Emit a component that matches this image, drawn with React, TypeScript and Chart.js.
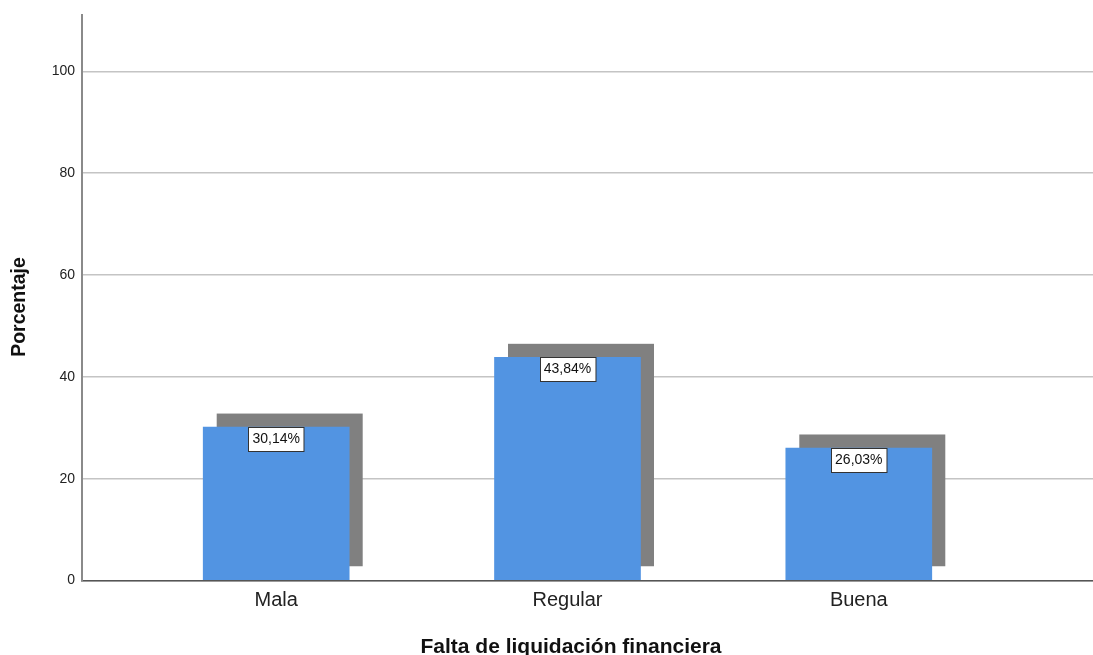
import React, { useEffect, useRef } from "react";
import { Chart, registerables } from "chart.js";

Chart.register(...registerables);

const CATEGORIES = ["Mala", "Regular", "Buena"];
const PERCENTAGES = [30.14, 43.84, 26.03];
const Y_TICKS = [0, 20, 40, 60, 80, 100];
const X_TITLE = "Falta de liquidación financiera";
const Y_TITLE = "Porcentaje";

const FONT = '"Liberation Sans", Arial, Helvetica, sans-serif';
const BAR_COLOR = "#5294E2";
const SHADOW_COLOR = "#808080";

const shadowPlugin = {
  id: "barShadow",
  beforeDatasetsDraw(chart: any) {
    const meta = chart.getDatasetMeta(0);
    const ctx = chart.ctx;
    ctx.save();
    ctx.fillStyle = SHADOW_COLOR;
    meta.data.forEach((bar: any) => {
      const p = bar.getProps(["x", "y", "base", "width"], true);
      ctx.fillRect(p.x - p.width / 2 + 13.5, p.y - 13.5, p.width, p.base - p.y);
    });
    ctx.restore();
  },
};

const labelPlugin = {
  id: "barLabels",
  afterDatasetsDraw(chart: any) {
    const meta = chart.getDatasetMeta(0);
    const ctx = chart.ctx;
    ctx.save();
    ctx.font = `14px ${FONT}`;
    ctx.textAlign = "center";
    ctx.textBaseline = "middle";
    meta.data.forEach((bar: any, i: number) => {
      const p = bar.getProps(["x", "y"], true);
      const txt = PERCENTAGES[i].toFixed(2).replace(".", ",") + "%";
      const w = ctx.measureText(txt).width + 8;
      const h = 24;
      const left = Math.round(p.x - w / 2) + 0.5;
      const top = Math.round(p.y) + 0.5;
      ctx.fillStyle = "#ffffff";
      ctx.fillRect(left, top, w, h);
      ctx.strokeStyle = "#333333";
      ctx.lineWidth = 1;
      ctx.strokeRect(left, top, w, h);
      ctx.fillStyle = "#111111";
      ctx.fillText(txt, p.x, top + h / 2);
    });
    ctx.restore();
  },
};

const titlePlugin = {
  id: "axisTitles",
  afterDraw(chart: any) {
    const ctx = chart.ctx;
    ctx.save();
    ctx.fillStyle = "#111111";
    ctx.font = `bold 21px ${FONT}`;
    ctx.textAlign = "center";
    ctx.textBaseline = "alphabetic";
    ctx.fillText(X_TITLE, 571, 653);
    ctx.translate(20, 307);
    ctx.rotate(-Math.PI / 2);
    ctx.font = `bold 19.5px ${FONT}`;
    ctx.textBaseline = "middle";
    ctx.fillText(Y_TITLE, 0, 0);
    ctx.restore();
  },
};

export default function App() {
  const ref = useRef<HTMLCanvasElement>(null);

  useEffect(() => {
    if (!ref.current) return;
    const chart = new Chart(ref.current, {
      type: "bar",
      data: {
        datasets: [
          {
            data: PERCENTAGES.map((v, i) => ({ x: i + 1, y: v })),
            backgroundColor: BAR_COLOR,
            borderWidth: 0,
            barThickness: 146,
          } as any,
        ],
      },
      options: {
        animation: false,
        responsive: false,
        layout: { padding: { top: 15, right: 0, left: 0, bottom: 0 } },
        plugins: { legend: { display: false }, tooltip: { enabled: false } },
        scales: {
          x: {
            type: "linear",
            offset: false,
            min: 1 / 3,
            max: 3.804,
            grid: { display: false, drawTicks: false },
            border: { display: true, color: "#555555", width: 1.5 },
            afterBuildTicks: (scale: any) => {
              scale.ticks = CATEGORIES.map((_, i) => ({ value: i + 1 }));
            },
            afterFit: (scale: any) => {
              scale.height = 74.5;
            },
            ticks: {
              autoSkip: false,
              maxRotation: 0,
              padding: 8,
              color: "#222222",
              font: { size: 20, family: FONT },
              callback: (v: any) => CATEGORIES[Math.round(Number(v)) - 1] ?? "",
            },
          },
          y: {
            type: "linear",
            min: 0,
            max: 111,
            grid: { color: "#c4c4c4", lineWidth: 1.5, drawTicks: false },
            border: { display: true, color: "#8a8a8a", width: 2 },
            afterBuildTicks: (scale: any) => {
              scale.ticks = Y_TICKS.map((v) => ({ value: v }));
            },
            afterFit: (scale: any) => {
              scale.width = 82;
            },
            ticks: {
              padding: 7,
              color: "#222222",
              font: { size: 14, family: FONT },
            },
          },
        },
      },
      plugins: [shadowPlugin, labelPlugin, titlePlugin],
    });
    return () => chart.destroy();
  }, []);

  return (
    <div style={{ position: "fixed", left: 0, top: 0, width: 1093, height: 655, background: "#fff" }}>
      <canvas ref={ref} width={1093} height={655} />
    </div>
  );
}
